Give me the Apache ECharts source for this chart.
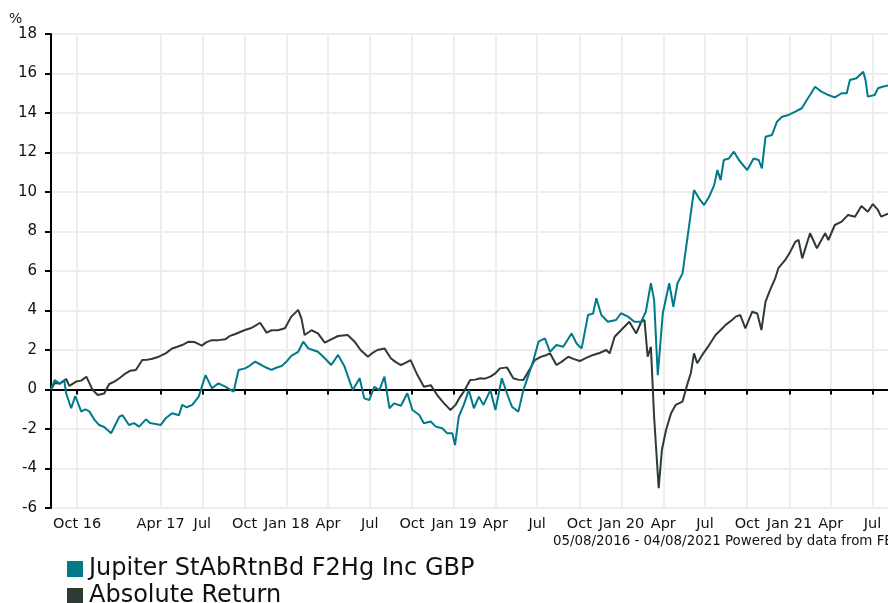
<!DOCTYPE html>
<html>
<head>
<meta charset="utf-8">
<script src="https://cdn.jsdelivr.net/npm/echarts@6/dist/echarts.min.js"></script>
<style>
html,body{margin:0;padding:0;background:#fff;}
#chart{width:888px;height:603px;}
</style>
</head>
<body>
<div id="chart"></div>
<script>
// Period covered: 05/08/2016 - 04/08/2021 (day 0 = 2016-08-05)
var startDate = '2016-08-05';
var totalDays = 1825;

var seriesNames = ['Jupiter StAbRtnBd F2Hg Inc GBP', 'Absolute Return'];

// Jupiter fund: days since start, cumulative % return
var jupiterDays = [0,8,19,29,33,44,53,66,75,84,95,105,116,131,140,149,156,170,181,192,207,216,228,239,250,264,279,286,296,308,322,337,351,365,380,398,409,423,433,445,459,470,481,491,503,513,524,539,550,561,571,582,597,611,626,640,658,673,683,694,705,716,727,738,748,763,777,788,803,813,828,839,853,864,875,881,889,900,911,922,933,943,958,969,983,994,1005,1019,1030,1045,1052,1063,1077,1088,1102,1117,1135,1146,1157,1171,1182,1189,1200,1214,1232,1243,1258,1272,1287,1297,1308,1315,1323,1334,1348,1357,1366,1377,1384,1393,1402,1413,1424,1435,1446,1453,1460,1467,1478,1489,1500,1518,1532,1543,1550,1558,1572,1583,1594,1608,1623,1637,1648,1655,1666,1680,1695,1709,1724,1735,1742,1756,1771,1776,1781,1796,1803,1813,1825];
var jupiterValues = [0.0,0.48,0.3,0.45,-0.19,-0.95,-0.33,-1.12,-1.0,-1.12,-1.54,-1.8,-1.9,-2.22,-1.8,-1.38,-1.3,-1.8,-1.7,-1.88,-1.51,-1.7,-1.75,-1.8,-1.46,-1.2,-1.3,-0.78,-0.9,-0.78,-0.36,0.73,0.06,0.31,0.15,-0.11,0.99,1.07,1.2,1.41,1.24,1.1,0.99,1.1,1.19,1.4,1.7,1.91,2.42,2.08,2.0,1.91,1.58,1.24,1.75,1.16,-0.03,0.57,-0.45,-0.53,0.14,-0.03,0.65,-0.95,-0.7,-0.82,-0.19,-1.04,-1.29,-1.71,-1.62,-1.88,-1.96,-2.22,-2.22,-2.81,-1.38,-0.78,-0.03,-0.95,-0.36,-0.78,-0.03,-1.04,0.57,-0.19,-0.87,-1.12,-0.03,0.99,1.49,2.42,2.59,1.91,2.25,2.16,2.84,2.33,2.08,3.77,3.85,4.62,3.77,3.43,3.52,3.86,3.69,3.43,3.43,3.94,5.38,4.54,0.73,3.86,5.38,4.19,5.38,5.88,7.06,8.58,10.1,9.68,9.34,9.76,10.35,11.11,10.6,11.62,11.7,12.04,11.62,11.11,11.7,11.62,11.2,12.8,12.89,13.56,13.81,13.9,14.07,14.24,14.66,14.91,15.33,15.08,14.91,14.79,15.0,15.0,15.67,15.76,16.09,15.67,14.83,14.91,15.25,15.33,15.4];

// Absolute Return sector: days since start, cumulative % return
var absDays = [0,8,19,33,40,55,66,77,91,102,116,120,127,138,149,163,173,185,199,209,221,235,250,264,274,286,300,313,329,339,351,365,380,389,402,411,423,435,443,456,470,481,495,510,524,539,546,553,568,582,597,611,626,647,662,675,691,701,712,727,741,751,763,773,784,799,813,828,842,857,871,882,890,900,914,925,936,946,958,968,979,994,1008,1018,1030,1045,1055,1068,1081,1088,1102,1113,1128,1139,1153,1167,1182,1196,1211,1218,1229,1247,1261,1276,1287,1294,1301,1308,1315,1325,1332,1341,1352,1362,1377,1388,1395,1402,1409,1420,1435,1449,1464,1471,1485,1493,1503,1514,1529,1540,1549,1558,1568,1579,1586,1601,1612,1623,1630,1638,1655,1670,1688,1695,1709,1724,1738,1753,1767,1781,1792,1803,1810,1825];
var absValues = [0.0,0.33,0.3,0.53,0.18,0.4,0.45,0.65,-0.03,-0.28,-0.2,-0.28,0.28,0.4,0.57,0.82,0.95,0.99,1.49,1.5,1.56,1.66,1.83,2.08,2.15,2.25,2.42,2.4,2.22,2.4,2.5,2.5,2.54,2.7,2.81,2.9,3.01,3.1,3.2,3.38,2.88,3.0,3.0,3.1,3.69,4.03,3.6,2.76,3.0,2.84,2.37,2.54,2.71,2.76,2.42,2.0,1.66,1.85,2.0,2.08,1.58,1.4,1.24,1.35,1.49,0.73,0.14,0.22,-0.28,-0.7,-1.04,-0.78,-0.45,-0.11,0.48,0.5,0.57,0.55,0.65,0.8,1.07,1.12,0.57,0.5,0.48,1.07,1.49,1.65,1.75,1.83,1.24,1.4,1.66,1.55,1.44,1.6,1.75,1.85,2.0,1.83,2.67,3.1,3.43,2.84,3.43,3.52,1.66,2.16,-1.38,-5.0,-3.06,-2.05,-1.2,-0.78,-0.61,0.31,0.82,1.83,1.33,1.75,2.25,2.76,3.1,3.27,3.52,3.69,3.77,3.1,3.94,3.85,3.01,4.45,5.04,5.63,6.14,6.56,6.98,7.48,7.57,6.64,7.91,7.15,7.91,7.57,8.33,8.5,8.84,8.75,9.29,9.0,9.39,9.09,8.75,8.9];

// X axis tick dates and their labels
var tickDates = ['2016-10-01','2017-04-01','2017-07-01','2017-10-01','2018-01-01','2018-04-01','2018-07-01','2018-10-01','2019-01-01','2019-04-01','2019-07-01','2019-10-01','2020-01-01','2020-04-01','2020-07-01','2020-10-01','2021-01-01','2021-04-01','2021-07-01'];
var tickLabels = ['Oct 16','Apr 17','Jul','Oct','Jan 18','Apr','Jul','Oct','Jan 19','Apr','Jul','Oct','Jan 20','Apr','Jul','Oct','Jan 21','Apr','Jul'];

// Y axis
var yMin = -6, yMax = 18, yStep = 2;

var footerText = '05/08/2016 - 04/08/2021 Powered by data from FE';
var colors = ['#007A8B', '#2E3A36'];

function dayToDate(d) {
  var p = startDate.split('-');
  var t = Date.UTC(+p[0], +p[1] - 1, +p[2]) + d * 86400000;
  return new Date(t).toISOString().slice(0, 10);
}
var categories = [];
for (var i = 0; i <= totalDays; i++) categories.push(dayToDate(i));
var labelMap = {};
tickDates.forEach(function (d, i) { labelMap[d] = tickLabels[i]; });
function isTick(index, value) { return labelMap.hasOwnProperty(value); }

function pairs(days, vals) {
  return days.map(function (d, i) { return [dayToDate(d), vals[i]]; });
}

var font = 'DejaVu Sans, Verdana, sans-serif';
function legendFor(name, top) {
  return {
    orient: 'vertical',
    left: 62,
    top: top,
    icon: 'rect',
    itemWidth: 16,
    itemHeight: 16,
    data: [name],
    textStyle: { fontSize: 24, color: '#111', fontFamily: font, padding: [2, 0, 0, 1] }
  };
}
var chart = echarts.init(document.getElementById('chart'));
chart.setOption({
  animation: false,
  color: colors,
  textStyle: { fontFamily: font },
  grid: { left: 51, top: 34, right: -5, bottom: 95, containLabel: false },
  legend: [legendFor(seriesNames[0], 552), legendFor(seriesNames[1], 579)],
  graphic: [
    { type: 'text', left: 9, top: 12, style: { text: '%', fontSize: 14, fill: '#111', fontFamily: font } },
    { type: 'text', left: 553, top: 535, style: { text: footerText, fontSize: 13.4, fill: '#111', fontFamily: font } }
  ],
  xAxis: {
    type: 'category',
    data: categories,
    boundaryGap: false,
    axisLine: { show: true, lineStyle: { color: '#000', width: 2 } },
    axisTick: { show: true, interval: isTick, length: 5, lineStyle: { color: '#000', width: 2 } },
    axisLabel: {
      interval: isTick,
      margin: 9,
      fontSize: 14.5,
      color: '#111',
      fontFamily: font,
      formatter: function (v) { return labelMap[v] || ''; }
    },
    splitLine: { show: true, interval: isTick, lineStyle: { color: '#EEEEEE', width: 2 } }
  },
  yAxis: {
    type: 'value',
    min: yMin,
    max: yMax,
    interval: yStep,
    axisLine: { show: true, lineStyle: { color: '#000', width: 2 } },
    axisTick: { show: true, length: 6, lineStyle: { color: '#000', width: 2 } },
    axisLabel: { margin: 14, fontSize: 15, color: '#111', fontFamily: font },
    splitLine: { show: true, lineStyle: { color: '#EEEEEE', width: 2 } }
  },
  series: [
    {
      name: seriesNames[0], type: 'line', showSymbol: false, symbol: 'none',
      lineStyle: { width: 2, color: colors[0] }, itemStyle: { color: colors[0] },
      data: pairs(jupiterDays, jupiterValues), z: 3
    },
    {
      name: seriesNames[1], type: 'line', showSymbol: false, symbol: 'none',
      lineStyle: { width: 2, color: colors[1] }, itemStyle: { color: colors[1] },
      data: pairs(absDays, absValues), z: 2
    }
  ]
});
</script>
</body>
</html>
